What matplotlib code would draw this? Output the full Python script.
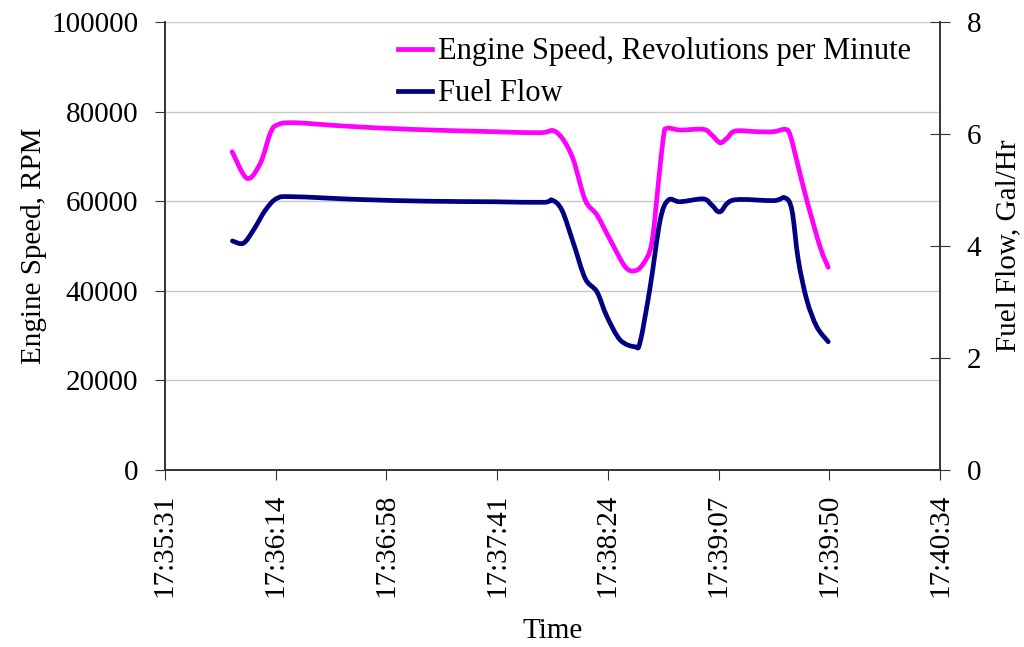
import matplotlib
matplotlib.use("Agg")
import matplotlib.pyplot as plt
from matplotlib.path import Path
from matplotlib.patches import PathPatch
from matplotlib.lines import Line2D

# seconds after 17:35:31
rpm_t = [26.3, 32.1, 37.3, 41.2, 43.8, 50.3, 69.9, 95.9, 128.5, 146.7, 151.9, 155.8,
         159.7, 164.3, 168.9, 174.1, 179.9, 183.8, 187.1, 190.3, 192.9, 194.9, 196.2,
         201.4, 210.5, 213.8, 217.0, 219.7, 222.9, 231.4, 237.9, 242.4, 244.4, 247.6,
         250.9, 256.1, 259.3]
rpm = [71050, 65110, 68460, 75150, 77000, 77520, 76780, 76040, 75510, 75290, 75730, 73660,
       69190, 60260, 56920, 51340, 45380, 44480, 46130, 50600, 63990, 74390, 76270,
       75890, 76040, 74770, 73050, 74040, 75660, 75510, 75510, 76040, 74770, 67700,
       60260, 49840, 45240]

fuel_t = [26.4, 30.7, 34.7, 39.3, 43.8, 50.3, 76.4, 102.4, 128.5, 148.0, 151.3, 155.2,
          159.7, 164.3, 168.9, 172.8, 178.0, 183.8, 185.8, 189.7, 193.6, 196.8, 201.4,
          210.5, 213.8, 217.0, 222.2, 237.9, 242.4, 245.1, 247.6, 250.9, 254.8, 259.3]
fuel = [4.09, 4.05, 4.29, 4.64, 4.85, 4.88, 4.83, 4.80, 4.79, 4.78, 4.82, 4.64,
        4.05, 3.42, 3.18, 2.74, 2.32, 2.20, 2.29, 3.27, 4.46, 4.82, 4.79,
        4.84, 4.73, 4.61, 4.82, 4.81, 4.86, 4.64, 3.75, 3.04, 2.56, 2.29]

tick_labels = ["17:35:31", "17:36:14", "17:36:58", "17:37:41",
               "17:38:24", "17:39:07", "17:39:50", "17:40:34"]
span = 303.0

plt.rcParams['font.family'] = ['Liberation Serif', 'DejaVu Serif']
fs = 21

PINK = "#FF00FF"
NAVY = "#000080"
LW = 3.4


def smooth_path(xs, ys):
    # Excel-style smoothed line: cubic Bezier through each point (Catmull-Rom)
    pts = list(zip(xs, ys))
    n = len(pts)
    verts = [pts[0]]
    codes = [Path.MOVETO]
    for i in range(n - 1):
        p0 = pts[i - 1] if i > 0 else pts[i]
        p1 = pts[i]
        p2 = pts[i + 1]
        p3 = pts[i + 2] if i + 2 < n else pts[i + 1]
        c1 = (p1[0] + (p2[0] - p0[0]) / 6, p1[1] + (p2[1] - p0[1]) / 6)
        c2 = (p2[0] - (p3[0] - p1[0]) / 6, p2[1] - (p3[1] - p1[1]) / 6)
        verts += [c1, c2, p2]
        codes += [Path.CURVE4] * 3
    return Path(verts, codes)


fig = plt.figure(figsize=(10.24, 6.47), dpi=100)
ax = fig.add_axes([0.161, 0.2736, 0.757, 0.6924])
ax2 = ax.twinx()

ax.add_patch(PathPatch(smooth_path(rpm_t, rpm), fill=False, edgecolor=PINK, lw=LW,
                       joinstyle="round", capstyle="round", zorder=3))
ax2.add_patch(PathPatch(smooth_path(fuel_t, fuel), fill=False, edgecolor=NAVY, lw=LW,
                        joinstyle="round", capstyle="round", zorder=3))

ax.set_xlim(0, span)
ax.set_xticks([span * i / 7 for i in range(8)])
ax.set_xticklabels(tick_labels, rotation=90, fontsize=fs)
ax.set_ylim(0, 100000)
ax.set_yticks(range(0, 100001, 20000))
ax.set_yticklabels([str(v) for v in range(0, 100001, 20000)], fontsize=fs)
ax2.set_ylim(0, 8)
ax2.set_yticks(range(0, 9, 2))
ax2.set_yticklabels([str(v) for v in range(0, 9, 2)], fontsize=fs)

ax.yaxis.grid(True, color="#c8c8c8", lw=1)
ax.set_axisbelow(True)
for a in (ax, ax2):
    a.spines['top'].set_visible(False)
    for s in ('left', 'right', 'bottom'):
        a.spines[s].set_color("#333333")
        a.spines[s].set_linewidth(1.2)
ax.tick_params(axis='x', direction='out', length=7, color="#333333", pad=10)
ax.tick_params(axis='y', direction='out', length=7, color="#333333", pad=12)
ax2.tick_params(axis='y', direction='inout', length=14, color="#333333", pad=12)

ax.set_xlabel("Time", fontsize=fs, labelpad=15)
ax.set_ylabel("Engine Speed, RPM", fontsize=fs, labelpad=3)
ax2.set_ylabel("Fuel Flow, Gal/Hr", fontsize=fs, labelpad=10)

handles = [Line2D([], [], color=PINK, lw=LW),
           Line2D([], [], color=NAVY, lw=LW)]
fig.legend(handles, ["Engine Speed, Revolutions per Minute", "Fuel Flow"],
           loc="upper left", bbox_to_anchor=(398 / 1024, 1 - 37 / 647),
           frameon=False, fontsize=22, handlelength=1.1, handletextpad=0.2,
           labelspacing=0.42, borderpad=0, borderaxespad=0)

fig.savefig("out.png", dpi=100)
